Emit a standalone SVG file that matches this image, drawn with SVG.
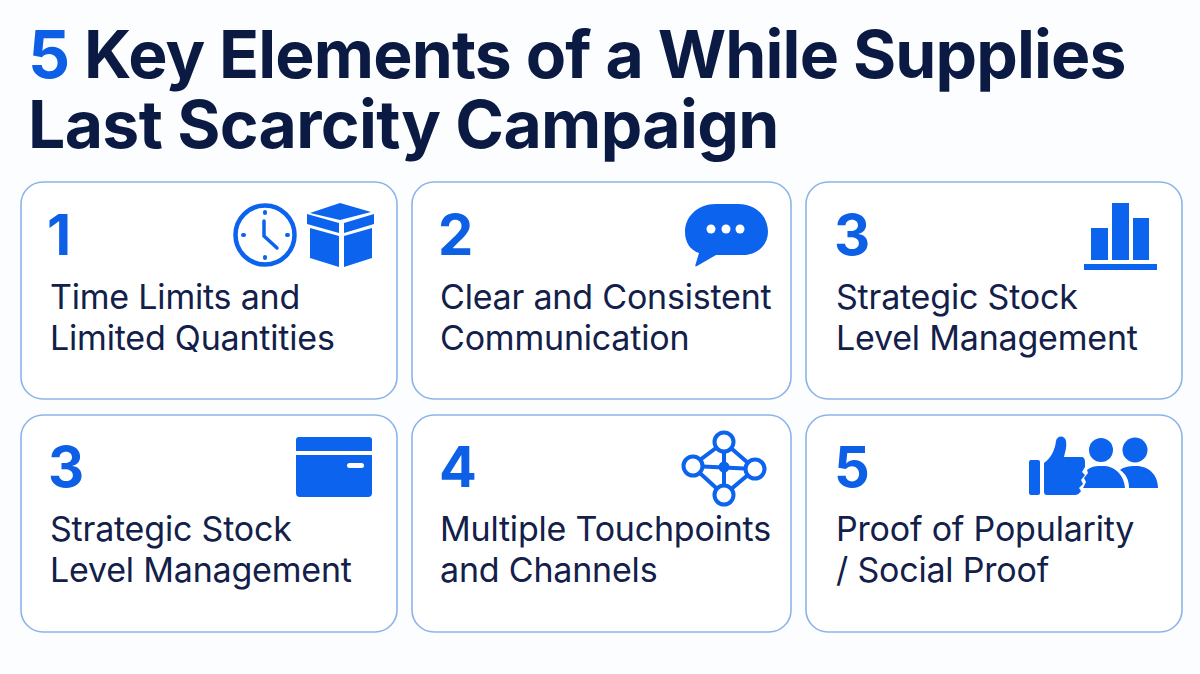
<svg xmlns="http://www.w3.org/2000/svg" width="1200" height="674" viewBox="0 0 1200 674">
<style>
.t{font-family:Inter,"Liberation Sans",sans-serif;font-weight:700;font-size:66px;fill:#0a1a42;letter-spacing:-0.65px}
.n{font-family:Inter,"Liberation Sans",sans-serif;font-weight:700;font-size:56px;fill:#0d5fe6}
.b{font-family:Inter,"Liberation Sans",sans-serif;font-weight:400;font-size:34px;fill:#12204a;letter-spacing:-0.2px}
.c{fill:#fff;stroke:#8db4ea;stroke-width:1.6}
.i{fill:#0b63ee}
.l{fill:none;stroke:#0b63ee;stroke-linecap:round}
.w{fill:#fff}
</style>
<rect width="1200" height="674" fill="#fcfdfe"/>
<g id="title">
<text class="t" x="28" y="78" style="letter-spacing:-0.85px"><tspan fill="#0d5fe6">5</tspan> Key Elements of a While Supplies</text>
<text class="t" x="28" y="148">Last Scarcity Campaign</text>
</g>
<g id="node-1">
<rect class="c" x="21" y="182" width="376" height="217" rx="22"/>
<text class="n" x="47" y="255">1</text>
<text class="b" x="50" y="309">Time Limits and</text>
<text class="b" x="50" y="350">Limited Quantities</text>
<circle cx="265" cy="235" r="29.500" fill="none" stroke="#0b63ee" stroke-width="4.500"/>
<path class="l" stroke-width="3.500" d="M264 221V236L277 248"/>
<path class="l" stroke-width="4" d="M265 212v1M265 257v1M243 235h1M287 235h1"/>
<path class="i" d="M340 203L371 212 340 220 310 213Z"/>
<path class="i" d="M307 214L339 223V233L307 224ZM374 214V224L344 233V223Z"/>
<path class="i" d="M310 228L339 236V267L310 258ZM372 228V258L344 267V236Z"/>
</g>
<g id="node-2">
<rect class="c" x="412" y="182" width="379" height="217" rx="22"/>
<text class="n" x="438" y="255">2</text>
<text class="b" x="440" y="309">Clear and Consistent</text>
<text class="b" x="440" y="350">Communication</text>
<path class="i" d="M716 204H738C757 204 768 217 768 232C768 245 757 255 743 255H716L697 266C695 267 695 266 696 263L699 253C690 250 685 242 685 232C685 217 697 204 716 204Z"/>
<circle class="w" cx="711" cy="229" r="4.500"/><circle class="w" cx="726" cy="229" r="4.500"/><circle class="w" cx="740" cy="229" r="4.500"/>
</g>
<g id="node-3">
<rect class="c" x="806" y="182" width="376" height="217" rx="22"/>
<text class="n" x="834" y="255">3</text>
<text class="b" x="836" y="309">Strategic Stock</text>
<text class="b" x="836" y="350">Level Management</text>
<rect class="i" x="1091" y="228" width="17" height="32"/>
<rect class="i" x="1112" y="203" width="17" height="57"/>
<rect class="i" x="1133" y="218" width="16" height="42"/>
<rect class="i" x="1084" y="264" width="73" height="6"/>
</g>
<g id="node-4">
<rect class="c" x="21" y="415" width="376" height="217" rx="22"/>
<text class="n" x="48" y="487">3</text>
<text class="b" x="50" y="541">Strategic Stock</text>
<text class="b" x="50" y="582">Level Management</text>
<path class="i" d="M299 437H369a3 3 0 0 1 3 3V451H296V440a3 3 0 0 1 3-3ZM296 455H372V493a4 4 0 0 1-4 4H300a4 4 0 0 1-4-4Z"/>
<rect class="w" x="347" y="463" width="17" height="5" rx="2.500"/>
</g>
<g id="node-5">
<rect class="c" x="412" y="415" width="379" height="217" rx="22"/>
<text class="n" x="439" y="487">4</text>
<text class="b" x="440" y="541">Multiple Touchpoints</text>
<text class="b" x="440" y="582">and Channels</text>
<path d="M724 442L692 466 724 495 755 469ZM724 442V495M692 466L755 469" fill="none" stroke="#0b63ee" stroke-width="4"/>
<circle cx="724" cy="467" r="5.500" fill="#0b63ee"/>
<g fill="#fbfdff" stroke="#0b63ee" stroke-width="4">
<circle cx="724" cy="442" r="9.500"/><circle cx="693" cy="466" r="9.500"/><circle cx="755" cy="469" r="9.500"/><circle cx="724" cy="495" r="9.500"/>
</g>
</g>
<g id="node-6">
<rect class="c" x="806" y="415" width="376" height="217" rx="22"/>
<text class="n" x="834" y="487">5</text>
<text class="b" x="836" y="541">Proof of Popularity</text>
<text class="b" x="836" y="582">/ Social Proof</text>
<rect class="i" x="1029" y="460" width="11" height="35" rx="2"/>
<path class="i" d="M1044 463C1051 458 1055 450 1056 441C1057 435 1065 435 1066 441C1067 448 1065 452 1064 457H1081C1084 457 1085 459 1085 462V467L1082 472 1085 475 1081 480 1083 484 1079 488 1081 491C1079 494 1077 495 1075 495H1047C1045 495 1044 494 1044 492Z"/>
<circle class="i" cx="1101" cy="450" r="12"/>
<circle class="i" cx="1135" cy="450" r="12.500"/>
<path class="i" d="M1083 488L1086 482 1084 478 1088 473 1087 470C1092 466 1096 466 1103 466C1114 466 1124 474 1125 488Z"/>
<path class="i" d="M1120 470C1124 467 1128 466 1136 466C1149 466 1158 475 1158 488H1129C1129 480 1126 474 1120 470Z"/>
</g>
</svg>
